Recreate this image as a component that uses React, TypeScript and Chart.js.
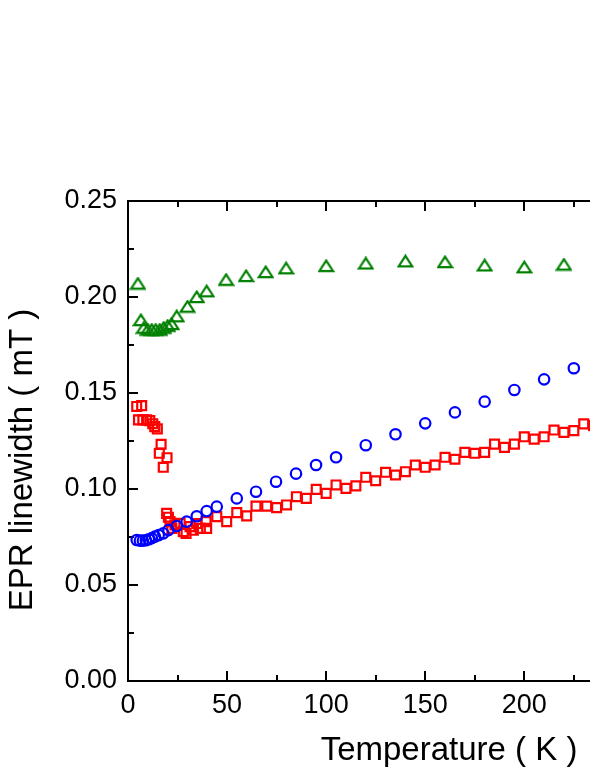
import React, { useEffect, useRef } from 'react';
import { Chart, registerables } from 'chart.js';

Chart.register(...registerables);

// ---- data (Temperature in K, EPR linewidth in mT) ----
const triT = [5, 6.5, 8, 10, 12, 14, 16, 18, 20, 22, 24.6, 30, 34.7, 39.7, 49.5, 59.6, 69.5, 79.8, 100, 120, 140, 160, 180, 200, 220, 240];
const triW = [0.207, 0.188, 0.184, 0.183, 0.183, 0.183, 0.183, 0.184, 0.185, 0.186, 0.190, 0.195, 0.200, 0.203, 0.209, 0.211, 0.213, 0.215, 0.2162, 0.2175, 0.2186, 0.2182, 0.2165, 0.2155, 0.2169, 0.2178];

const circT = [4.4, 6, 7.5, 9, 10.5, 12, 13.6, 15.5, 17.8, 20.4, 24.6, 29.6, 34.7, 39.7, 44.8, 54.9, 64.6, 74.7, 84.8, 94.9, 105, 120, 135, 150, 165, 180, 195, 210, 225, 240];
const circW = [0.0734, 0.0731, 0.0731, 0.0733, 0.0738, 0.0744, 0.0752, 0.076, 0.0769, 0.0786, 0.0807, 0.083, 0.0858, 0.0885, 0.0908, 0.0951, 0.0986, 0.1038, 0.108, 0.1125, 0.1165, 0.1228, 0.1285, 0.1342, 0.1399, 0.1455, 0.1516, 0.1571, 0.1629, 0.1686];

const sqT = [4.4, 6.9, 5.3, 7.5, 9.4, 11, 12.5, 13.5, 14.8, 16.7, 15.8, 19.7, 17.8,
  19.5, 20.4, 21.2, 22.1, 23.7, 26.3, 27.9, 29.3, 31.3, 33, 34.7, 36.5, 39.7, 39.4, 44.8, 49.8, 54.9, 59.9, 64.6, 70, 75, 80,
  85, 90, 95, 100, 105, 110, 115, 120, 125, 130, 135, 140, 145, 150, 155, 160, 165, 170, 175, 180, 185, 190, 195, 200, 205, 210, 215, 220, 225, 230, 235];
const sqW = [0.143, 0.1434, 0.136, 0.136, 0.136, 0.1356, 0.134, 0.1325, 0.1313, 0.1233, 0.1186, 0.1163, 0.1113,
  0.0873, 0.0853, 0.083, 0.0795, 0.0813, 0.0821, 0.0778, 0.0769, 0.0804, 0.0785, 0.082, 0.0795, 0.0795, 0.083, 0.0856, 0.083, 0.0877, 0.086, 0.0911, 0.0911, 0.0903, 0.0917,
  0.096, 0.0951, 0.0998, 0.0977, 0.1021, 0.1003, 0.1016, 0.1061, 0.1043, 0.1087, 0.1073, 0.109, 0.1125, 0.1113, 0.1125, 0.1165, 0.1155, 0.1191, 0.1186, 0.1191, 0.1234, 0.1217, 0.1234, 0.1272, 0.126, 0.1272, 0.1307, 0.1295, 0.1304, 0.1339, 0.133];

// ---- axes ----
const xMin = 0;
const xMax = 237.2;
const yMin = 0;
const yMax = 0.25;
const xMajor = [0, 50, 100, 150, 200];
const xMinor = [25, 75, 125, 175, 225];
const yMajor = [0, 0.05, 0.1, 0.15, 0.2, 0.25];
const yMinor = [0.025, 0.075, 0.125, 0.175, 0.225];
const xTitle = 'Temperature ( K )';
const yTitle = 'EPR linewidth ( mT )';

const FONT = "'Liberation Sans', Arial, sans-serif";

const toXY = (xs: number[], ys: number[]) => xs.map((x, i) => ({ x, y: ys[i] }));

function makeTriangle(color: string) {
  const c = document.createElement('canvas');
  c.width = 17;
  c.height = 14;
  const g = c.getContext('2d')!;
  g.strokeStyle = color;
  g.lineWidth = 2.2;
  g.lineJoin = 'miter';
  g.beginPath();
  g.moveTo(8.5, 1.6);
  g.lineTo(15.4, 12.2);
  g.lineTo(1.6, 12.2);
  g.closePath();
  g.stroke();
  return c;
}

const framePlugin = {
  id: 'frame',
  beforeDatasetsDraw(chart: any) {
    const { ctx, chartArea: a, scales } = chart;
    const x = scales.x;
    const y = scales.y;
    ctx.save();
    ctx.strokeStyle = '#000';
    ctx.lineWidth = 2;
    ctx.lineCap = 'butt';
    ctx.beginPath();
    ctx.moveTo(a.left, a.top - 1);
    ctx.lineTo(a.left, a.bottom + 1);
    ctx.moveTo(a.left - 1, a.bottom);
    ctx.lineTo(a.right + 20, a.bottom);
    ctx.moveTo(a.left - 1, a.top);
    ctx.lineTo(a.right + 20, a.top);
    const xt = (vals: number[], len: number) => {
      for (const v of vals) {
        const p = Math.round(x.getPixelForValue(v));
        ctx.moveTo(p, a.bottom);
        ctx.lineTo(p, a.bottom - len);
        ctx.moveTo(p, a.top);
        ctx.lineTo(p, a.top + len);
      }
    };
    xt(xMajor, 10);
    xt(xMinor, 6);
    const yt = (vals: number[], len: number) => {
      for (const v of vals) {
        const p = Math.round(y.getPixelForValue(v));
        ctx.moveTo(a.left, p);
        ctx.lineTo(a.left + len, p);
      }
    };
    yt(yMajor, 10);
    yt(yMinor, 6);
    ctx.stroke();

    ctx.fillStyle = '#000';
    ctx.font = `33px ${FONT}`;
    ctx.textAlign = 'center';
    ctx.textBaseline = 'alphabetic';
    ctx.fillText(xTitle, 441, 752);
    ctx.translate(24, 452);
    ctx.rotate(-Math.PI / 2);
    ctx.fillText(yTitle, 0, 0);
    ctx.restore();
  },
};

export default function App() {
  const ref = useRef<HTMLCanvasElement | null>(null);
  useEffect(() => {
    document.documentElement.style.overflow = 'hidden';
    document.body.style.overflow = 'hidden';
    if (!ref.current) return;
    const common = {
      showLine: false,
      backgroundColor: 'rgba(0,0,0,0)',
      pointBackgroundColor: 'rgba(0,0,0,0)',
      pointBorderWidth: 2.2,
      borderWidth: 2,
      clip: false as any,
    };
    const chart = new Chart(ref.current, {
      type: 'scatter',
      data: {
        datasets: [
          {
            ...common,
            label: 'triangles',
            data: toXY(triT, triW),
            pointStyle: makeTriangle('#008000') as any,
            pointRadius: 7.5,
            borderColor: '#008000',
            pointBorderColor: '#008000',
          },
          {
            ...common,
            label: 'circles',
            data: toXY(circT, circW),
            pointStyle: 'circle',
            pointRadius: 5.2,
            borderColor: '#0000ff',
            pointBorderColor: '#0000ff',
          },
          {
            ...common,
            label: 'squares',
            data: toXY(sqT, sqW),
            pointStyle: 'rect',
            pointRadius: 6.3,
            borderColor: '#ff0000',
            pointBorderColor: '#ff0000',
          },
        ],
      },
      options: {
        animation: false,
        responsive: false,
        maintainAspectRatio: false,
        events: [],
        layout: { autoPadding: false, padding: { top: 193, right: 0, bottom: 0, left: 0 } },
        plugins: {
          legend: { display: false },
          tooltip: { enabled: false },
          title: { display: false },
        },
        scales: {
          x: {
            type: 'linear',
            min: xMin,
            max: xMax,
            grid: { display: false, drawTicks: false },
            border: { display: false },
            afterBuildTicks: (s: any) => {
              s.ticks = xMajor.map((v) => ({ value: v }));
            },
            afterFit: (s: any) => {
              s.height = 93;
            },
            ticks: {
              autoSkip: false,
              maxRotation: 0,
              padding: 8,
              color: '#000',
              font: { family: FONT, size: 27 },
              callback: (v: any) => String(v),
            },
          },
          y: {
            type: 'linear',
            min: yMin,
            max: yMax,
            grid: { display: false, drawTicks: false },
            border: { display: false },
            afterBuildTicks: (s: any) => {
              s.ticks = yMajor.map((v) => ({ value: v }));
            },
            afterFit: (s: any) => {
              s.width = 120;
            },
            ticks: {
              autoSkip: false,
              padding: 11,
              color: '#000',
              font: { family: FONT, size: 27 },
              callback: (v: any) => Number(v).toFixed(2),
            },
          },
        },
      },
      plugins: [framePlugin],
    });
    return () => chart.destroy();
  }, []);
  return (
    <div style={{ width: 590, height: 766, overflow: 'hidden' }}>
      <canvas ref={ref} width={590} height={766} style={{ display: 'block' }} />
    </div>
  );
}
